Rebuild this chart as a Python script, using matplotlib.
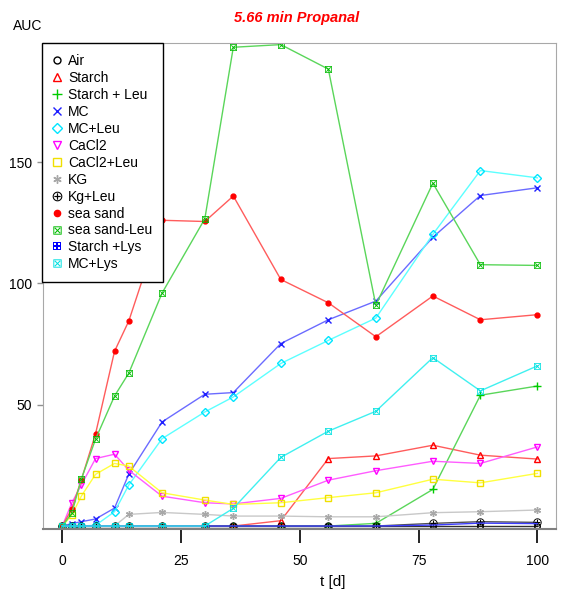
import matplotlib
matplotlib.use("Agg")
import matplotlib.pyplot as plt
from matplotlib.lines import Line2D

plt.rcParams['font.family'] = ['Liberation Sans', 'DejaVu Sans']

# sampling days
days = [0, 2, 4, 7, 11, 14, 21, 30, 36, 46, 56, 66, 78, 88, 100]

air = [0, 0, 0, 0, 0, 0, 0, 0, 0, 0, 0, 0, 0, 0, 0]
starch = [0, 0, 0, 0, 0, 0, 0, 0, 0, 2.2, 27.8, 28.9, 33.3, 29.2, 27.6]
starch_leu = [0, 0, 0, 0, 0, 0, 0, 0, 0, 0, 0, 1.1, 15.1, 53.9, 57.7]
mc = [0, 1.0, 1.8, 2.9, 7.4, 21.4, 42.9, 54.3, 55.0, 75.2, 85.0, 92.7, 119.0, 136.2, 139.4]
mc_leu = [0, 0, 0, 0.3, 5.9, 16.9, 36.0, 47.0, 53.2, 67.0, 76.5, 85.7, 120.2, 146.5, 143.5]
cacl2 = [0, 9.5, 16.9, 27.8, 29.6, 23.0, 12.3, 9.6, 9.1, 11.4, 18.9, 22.8, 26.7, 25.8, 32.6]
cacl2_leu = [0, 4.5, 12.3, 21.3, 25.8, 24.7, 13.7, 10.7, 8.9, 9.6, 11.7, 13.7, 19.3, 17.8, 21.7]
kg = [0, 0, 0, 0, 0, 4.8, 5.6, 4.8, 4.1, 4.1, 3.8, 3.8, 5.5, 5.9, 6.6]
kg_leu = [0, 0, 0, 0, 0, 0, 0, 0, 0, 0, 0, 0, 1.1, 1.8, 1.5]
sea_sand = [0, 7.0, 19.0, 38.0, 72.0, 84.5, 126.0, 125.5, 136.0, 101.6, 92.0, 78.0, 94.8, 85.0, 87.1]
sea_sand_leu = [0, 5.3, 19.3, 35.8, 53.6, 63.0, 96.0, 126.6, 197.3, 198.4, 188.3, 91.0, 141.3, 107.7, 107.4]
starch_lys = [0, 0, 0, 0, 0, 0, 0, 0, 0, 0, 0, 0, 0.4, 1.2, 1.0]
mc_lys = [0, 0, 0, 0, 0, 0, 0, 0, 7.3, 28.3, 39.1, 47.3, 69.4, 55.7, 66.0]

labels = ["Air", "Starch", "Starch + Leu", "MC", "MC+Leu", "CaCl2", "CaCl2+Leu",
          "KG", "Kg+Leu", "sea sand", "sea sand-Leu", "Starch +Lys", "MC+Lys"]
series = [air, starch, starch_leu, mc, mc_leu, cacl2, cacl2_leu,
          kg, kg_leu, sea_sand, sea_sand_leu, starch_lys, mc_lys]

# (line colour, marker colour, marker, filled, size)
styles = [
    ("#303030", "black", "o", False, 4),
    ("#ff5c5c", "red", "^", False, 5),
    ("#5ad65a", "#00cc00", "+", True, 6),
    ("#6b6bff", "#2020ff", "x", True, 4.5),
    ("#5cffff", "#00e5ff", "D", False, 4.5),
    ("#ff5cff", "#ff00ff", "v", False, 5),
    ("#ffff40", "#f0e000", "s", False, 4.5),
    ("#c8c8c8", "#a8a8a8", (6, 2, 0), True, 5),
    ("#505050", "black", r"$\oplus$", True, 6),
    ("#ff5c5c", "red", "o", True, 3.5),
    ("#5ad65a", "#00bb00", r"$\boxtimes$", True, 5),
    ("#3c3cff", "#0000ff", r"$\boxplus$", True, 5),
    ("#40f0f0", "#00e0e0", r"$\boxtimes$", True, 5),
]

fig = plt.figure(figsize=(5.62, 5.91), dpi=100)
ax = fig.add_axes([0.077, 0.105, 0.913, 0.822])

handles = []
for vals, lab, (lc, mcol, mk, filled, ms) in zip(series, labels, styles):
    glyph = isinstance(mk, str) and mk.startswith("$")
    face = mcol if filled else "none"
    mew = 0.0 if glyph else 1.0
    ax.plot(days, vals, color=lc, lw=1.0, marker=mk, ms=ms,
            mec=mcol, mfc=face, mew=mew)
    handles.append(Line2D([], [], ls="", marker=mk, ms=ms + 1,
                          mec=mcol, mfc=face, mew=mew))

ax.set_xlim(-4, 104)
ax.set_ylim(-1.2, 199)
ax.set_xticks([0, 25, 50, 75, 100])
ax.set_yticks([50, 100, 150])
ax.tick_params(axis="x", length=10, width=1.2, color="black", pad=8, labelsize=10)
ax.tick_params(axis="y", length=4, width=1, color="#909090", pad=4, labelsize=10)

for side in ["left", "top", "right"]:
    ax.spines[side].set_color("#a8a8a8")
ax.spines["bottom"].set_color("#808080")
ax.spines["bottom"].set_linewidth(1.5)

leg = ax.legend(handles, labels, loc="upper left", bbox_to_anchor=(-0.003, 1.0),
                borderaxespad=0, fontsize=10, fancybox=False, framealpha=1,
                edgecolor="black", handlelength=0.6, handletextpad=0.5,
                labelspacing=0.21, borderpad=0.8)
leg.get_frame().set_linewidth(1.0)

fig.text(0.528, 1 - 18 / 591, "5.66 min Propanal", color="red", fontsize=10.5,
         fontweight="bold", fontstyle="italic", ha="center", va="center")
fig.text(13 / 562, 1 - 26 / 591, "AUC", fontsize=10, ha="left", va="center")
fig.text(333 / 562, 1 - 582 / 591, "t [d]", fontsize=11, ha="center", va="center")

fig.savefig("out.png", dpi=100)
